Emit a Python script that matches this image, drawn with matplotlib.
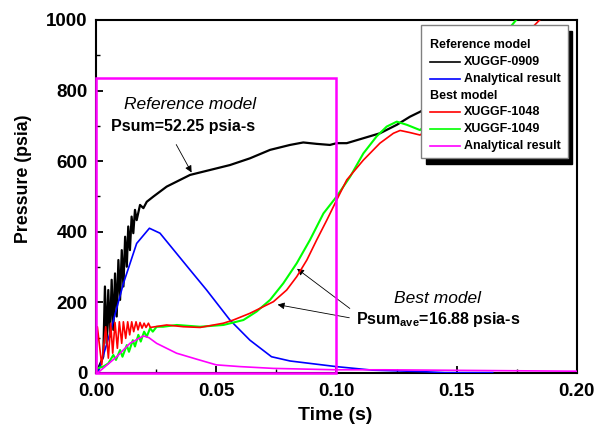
import numpy as np
import matplotlib
matplotlib.use('Agg')
import matplotlib.pyplot as plt
from matplotlib.patches import Rectangle
from matplotlib.ticker import MultipleLocator, FormatStrFormatter

plt.rcParams['font.family'] = ['Liberation Sans', 'DejaVu Sans']
plt.rcParams['mathtext.fontset'] = 'custom'
plt.rcParams['mathtext.rm'] = 'Liberation Sans'
plt.rcParams['mathtext.bf'] = 'Liberation Sans:bold'

# reference model, XUGGF-0909 (black)
ref_t = [0.0, 0.0003, 0.003, 0.0037, 0.0044, 0.0051, 0.0058, 0.0065, 0.0072, 0.0079,
         0.0086, 0.0093, 0.0100, 0.0107, 0.0114, 0.0121, 0.0128, 0.0134, 0.0141, 0.0148,
         0.0155, 0.0162, 0.0169, 0.0183, 0.0197, 0.0211, 0.0239, 0.0294, 0.0391, 0.0474,
         0.0557, 0.0640, 0.0724, 0.0807, 0.0862, 0.0918, 0.0973, 0.1001, 0.1043, 0.1112,
         0.1181, 0.1251, 0.1306, 0.1348, 0.1400]
ref_p = [0, 4, 46, 245, 84, 235, 103, 264, 122, 282,
         160, 320, 207, 348, 245, 386, 301, 415, 348, 443,
         396, 462, 433, 476, 467, 485, 500, 528, 561, 575,
         589, 608, 632, 646, 653, 649, 646, 651, 651, 665,
         679, 703, 726, 740, 760]

# reference model, analytical result (blue)
ref_ana_t = [0.0, 0.001, 0.0058, 0.0114, 0.0169, 0.0222, 0.0266, 0.0391, 0.046, 0.0557,
             0.064, 0.073, 0.0807, 0.100, 0.115, 0.135, 0.145, 0.165]
ref_ana_p = [0, 3, 113, 254, 367, 410, 396, 292, 235, 150,
             93, 46, 34, 18, 8, 4, 1, 1]

# best model, XUGGF-1048 (red)
b1048_t = [0.0, 0.00055, 0.00236, 0.00402, 0.00513, 0.0061, 0.00693, 0.0079, 0.00887, 0.0097,
           0.01068, 0.01137, 0.01234, 0.01317, 0.0140, 0.01484, 0.01567, 0.01664, 0.01747, 0.0183,
           0.01914, 0.0200, 0.0208, 0.0218, 0.0226, 0.0294, 0.0363, 0.0433, 0.0530, 0.0571,
           0.0640, 0.0738, 0.0793, 0.0835, 0.0877, 0.0918, 0.0960, 0.1001, 0.1043, 0.1112,
           0.1181, 0.1237, 0.1265, 0.1306, 0.1348, 0.150, 0.170, 0.186]
b1048_p = [0, 131, 23, 131, 42, 141, 56, 143, 70, 145,
           84, 145, 98, 145, 108, 145, 117, 145, 122, 143,
           127, 141, 129, 141, 129, 136, 131, 129, 141, 150,
           169, 202, 235, 273, 320, 377, 433, 490, 547, 603,
           651, 679, 687, 681, 674, 760, 900, 1010]

# best model, XUGGF-1049 (green)
b1049_t = [0.0, 0.0003, 0.003, 0.0051, 0.0072, 0.0083, 0.0100, 0.0110, 0.0128, 0.0137,
           0.0153, 0.0162, 0.0176, 0.0186, 0.0200, 0.0211, 0.0225, 0.0236, 0.0252, 0.0279,
           0.0336, 0.0433, 0.0530, 0.0613, 0.0668, 0.0724, 0.0779, 0.0835, 0.0890, 0.0946,
           0.1001, 0.1057, 0.1112, 0.1167, 0.1209, 0.1251, 0.1293, 0.1348, 0.150, 0.165, 0.176]
b1049_p = [0, 13, 18, 27, 51, 37, 65, 46, 79, 60,
           93, 75, 108, 89, 117, 103, 127, 117, 131, 131,
           136, 131, 136, 150, 174, 207, 254, 311, 377, 452,
           500, 556, 622, 670, 698, 712, 703, 688, 790, 920, 1010]

# best model, analytical result (magenta)
best_ana_t = [0.0, 0.001, 0.0086, 0.0141, 0.0197, 0.022, 0.0252, 0.0335, 0.0419, 0.050,
              0.060, 0.0737, 0.100, 0.120, 0.200]
best_ana_p = [0, 2, 46, 84, 105, 100, 84, 56, 39, 23,
              18, 13, 9, 9, 5]

legend_rows = [('Reference model', None),
               ('XUGGF-0909', 'black'),
               ('Analytical result', 'blue'),
               ('Best model', None),
               ('XUGGF-1048', 'red'),
               ('XUGGF-1049', '#00ff00'),
               ('Analytical result', 'magenta')]

fig = plt.figure(figsize=(6.04, 4.34), dpi=100)
ax = fig.add_axes([0.159, 0.1406, 0.796, 0.8134])

ax.plot(ref_t, ref_p, color='black', lw=1.6, zorder=3)
ax.plot(ref_ana_t, ref_ana_p, color='blue', lw=1.2, zorder=3)
ax.plot(b1048_t, b1048_p, color='red', lw=1.2, zorder=4)
ax.plot(b1049_t, b1049_p, color='#00ff00', lw=1.5, zorder=3)
ax.plot(best_ana_t, best_ana_p, color='magenta', lw=1.2, zorder=3)

# magenta box around the analytical window
ax.add_patch(Rectangle((0, 0), 0.1, 835, fill=False, edgecolor='magenta', lw=1.8,
                       zorder=5, clip_on=False))

ax.set_xlim(0, 0.2)
ax.set_ylim(0, 1000)
ax.xaxis.set_major_locator(MultipleLocator(0.05))
ax.xaxis.set_minor_locator(MultipleLocator(0.025))
ax.yaxis.set_major_locator(MultipleLocator(200))
ax.yaxis.set_minor_locator(MultipleLocator(100))
ax.xaxis.set_major_formatter(FormatStrFormatter('%.2f'))
ax.tick_params(which='both', direction='in', top=False, right=False)
ax.tick_params(which='major', length=5, width=1.3, labelsize=13.5)
ax.tick_params(axis='x', which='major', pad=7)
ax.tick_params(axis='y', which='major', pad=6)
ax.tick_params(which='minor', length=3, width=1.0)
for lab in ax.get_xticklabels() + ax.get_yticklabels():
    lab.set_fontweight('bold')
for sp in ax.spines.values():
    sp.set_linewidth(1.5)

ax.set_xlabel('Time (s)', fontsize=14, fontweight='bold')
ax.set_ylabel('Pressure (psia)', fontsize=12.8, fontweight='bold')
ax.yaxis.set_label_coords(-0.133, 0.55)
ax.xaxis.set_label_coords(0.497, -0.095)

# annotations
ax.text(0.0391, 760, 'Reference model', style='italic', fontsize=12.5, ha='center', va='center')
ax.text(0.0364, 698, 'Psum=52.25 psia-s', fontweight='bold', fontsize=11.5, ha='center', va='center')
ax.annotate('', xy=(0.0403, 561), xytext=(0.0328, 654),
            arrowprops=dict(arrowstyle='-|>', color='black', lw=0.6, mutation_scale=10))
ax.text(0.1422, 212, 'Best model', style='italic', fontsize=12.5, ha='center', va='center')
ax.text(0.1425, 152, r'Psum$_{\mathbf{ave}}$=16.88 psia-s', fontweight='bold', fontsize=11.5,
        ha='center', va='center')
ax.annotate('', xy=(0.0827, 300), xytext=(0.1065, 178),
            arrowprops=dict(arrowstyle='-|>', color='black', lw=0.6, mutation_scale=10))
ax.annotate('', xy=(0.0744, 195), xytext=(0.1065, 155),
            arrowprops=dict(arrowstyle='-|>', color='black', lw=0.6, mutation_scale=10))

# legend drawn by hand (box with drop shadow)
tr = ax.transAxes
ax.add_patch(Rectangle((0.686, 0.592), 0.305, 0.377, transform=tr, facecolor='black',
                       edgecolor='black', zorder=9))
ax.add_patch(Rectangle((0.676, 0.609), 0.305, 0.377, transform=tr, facecolor='white',
                       edgecolor='#808080', lw=1.0, zorder=10))
row_y = [0.929, 0.882, 0.833, 0.786, 0.739, 0.691, 0.644]
for (label, col), yy in zip(legend_rows, row_y):
    if col is None:
        ax.text(0.694, yy, label, transform=tr, fontsize=9, fontweight='bold',
                va='center', ha='left', zorder=11)
    else:
        ax.plot([0.694, 0.757], [yy, yy], transform=tr, color=col, lw=1.2, zorder=11)
        ax.text(0.765, yy, label, transform=tr, fontsize=9, fontweight='bold',
                va='center', ha='left', zorder=11)

fig.savefig('out.png', dpi=100)
